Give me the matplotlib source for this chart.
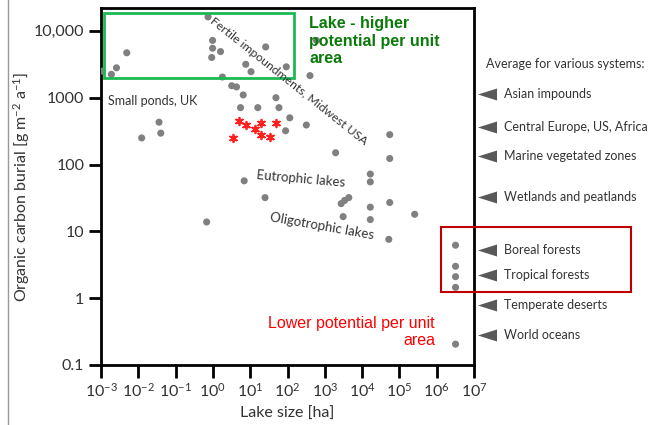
import matplotlib
matplotlib.use("Agg")
import matplotlib.pyplot as plt
import matplotlib.patches as mpatches
import matplotlib.transforms as mtransforms
from matplotlib.ticker import FixedLocator, FixedFormatter, NullLocator

plt.rcParams["font.family"] = ["Lato", "DejaVu Sans"]
plt.rcParams["mathtext.fontset"] = "custom"
plt.rcParams["mathtext.rm"] = "Lato"
plt.rcParams["mathtext.it"] = "Lato"
plt.rcParams["mathtext.bf"] = "Lato:bold"

# ── Datos ─────────────────────────────────────────────────────────────────────
# lagos (tamaño en ha, enterramiento de C en g m-2 a-1)
lake_size = [0.74, 0.0049, 0.0026, 0.0019, 0.0011, 0.98, 0.98, 1.6, 0.93, 26,
             7.6, 10.5, 93, 400, 1.8, 3.2, 4.3, 6.5, 49, 5.5,
             16, 59, 115, 320, 89, 0.036, 0.040, 0.0123, 600, 55000,
             55000, 1950, 16600, 16600, 6.9, 25, 2750, 3400, 4400, 16600,
             55000, 257000, 3100, 16600, 0.68, 52000, 3.2e6, 3.2e6, 3.2e6, 3.2e6,
             3.2e6]
burial = [16200, 4700, 2800, 2240, 2500, 7200, 5500, 4900, 4000, 5750,
          3160, 2450, 2900, 2140, 2040, 1510, 1450, 1100, 1000, 710,
          710, 710, 500, 390, 320, 430, 295, 250, 7200, 280,
          123, 150, 72, 55, 57, 32, 26, 29, 32, 23,
          27, 18, 16.6, 15, 13.8, 7.6, 6.2, 3.0, 2.1, 1.45,
          0.205]

# estanques marcados con asterisco rojo
star_size = [5.0, 7.9, 13.2, 20, 20, 35, 50, 3.4]
star_burial = [443, 395, 337, 413, 281, 262, 413, 251]

# promedios por sistema (flechas a la derecha)
systems = ["Asian impounds", "Central Europe, US, Africa", "Marine vegetated zones",
           "Wetlands and peatlands", "Boreal forests", "Tropical forests",
           "Temperate deserts", "World oceans"]
system_burial = [1135, 361, 132, 32.5, 5.2, 2.2, 0.79, 0.28]

y_ticks = [0.1, 1, 10, 100, 1000, 10000]
y_ticklabels = ["0.1", "1", "10", "100", "1000", "10,000"]
x_ticks = [10.0 ** e for e in range(-3, 8)]

W, H = 652, 425


def fx(px):
    return px / W


def fy(py):
    return 1 - py / H


fig = plt.figure(figsize=(W / 100, H / 100), dpi=100)
ax = fig.add_axes([fx(101), fy(365), (474 - 101) / W, (365 - 8) / H])

ax.scatter(lake_size, burial, s=26, color="#808080", edgecolors="none", zorder=3)
ax.scatter(star_size, star_burial, s=30, marker=(6, 2, 0), color="#ff2020",
           linewidths=1.3, zorder=3)

ax.set_xscale("log")
ax.set_yscale("log")
ax.set_xlim(1e-3, 1e7)
ax.set_ylim(0.1, 22000)

ax.xaxis.set_major_locator(FixedLocator(x_ticks))
ax.xaxis.set_minor_locator(NullLocator())
ax.yaxis.set_major_locator(FixedLocator(y_ticks))
ax.yaxis.set_major_formatter(FixedFormatter(y_ticklabels))
ax.yaxis.set_minor_locator(NullLocator())
ax.tick_params(axis="both", direction="out", length=9, width=2, colors="black",
               labelcolor="#333333", labelsize=11.5, pad=3)
for sp in ax.spines.values():
    sp.set_linewidth(2)
    sp.set_color("black")

ax.set_xlabel("Lake size [ha]", fontsize=11.5, color="#333333", labelpad=5)
ax.set_ylabel("Organic carbon burial [g m$^{-2}$ a$^{-1}$]", fontsize=11.5,
              color="#333333", labelpad=1)

# flechas de promedios por sistema
trans = mtransforms.blended_transform_factory(ax.transAxes, ax.transData)
tri = [(-1, 0), (1, 0.63), (1, -0.63)]
ax.plot([1.036] * len(system_burial), system_burial, linestyle="none",
        marker=tri, markersize=13.7, color="#595959", markeredgewidth=0,
        transform=trans, clip_on=False)
for name, val in zip(systems, system_burial):
    ax.text(1.0804, val, name, transform=trans, ha="left", va="center",
            fontsize=9, color="#333333", clip_on=False)

fig.text(fx(486), fy(64), "Average for various systems:", ha="left", va="center",
         fontsize=9, color="#333333")

# etiquetas de grupos
fig.text(fx(108), fy(101), "Small ponds, UK", ha="left", va="center",
         fontsize=9, color="#333333")
fig.text(fx(289), fy(81), "Fertile impoundments, Midwest USA", ha="center",
         va="center", rotation=-38.5, rotation_mode="anchor", fontsize=8.8,
         color="#333333")
fig.text(fx(301), fy(179), "Eutrophic lakes", ha="center", va="center",
         rotation=-5, rotation_mode="anchor", fontsize=9.5, color="#333333")
fig.text(fx(322), fy(226), "Oligotrophic lakes", ha="center", va="center",
         rotation=-10, rotation_mode="anchor", fontsize=9.5, color="#333333")

# recuadros y notas
fig.add_artist(mpatches.Rectangle((fx(104), fy(78)), (294 - 104) / W, (78 - 13) / H,
                                  transform=fig.transFigure, fill=False,
                                  edgecolor="#1db954", linewidth=2))
fig.add_artist(mpatches.Rectangle((fx(441), fy(292)), (631 - 441) / W, (292 - 227) / H,
                                  transform=fig.transFigure, fill=False,
                                  edgecolor="#c00000", linewidth=1.5))
fig.text(fx(309), fy(16), "Lake - higher\npotential per unit\narea", ha="left",
         va="top", fontsize=11.5, fontweight="bold", color="#0a7a0a",
         family="Liberation Sans", linespacing=1.22)
fig.text(fx(435), fy(316), "Lower potential per unit\narea", ha="right",
         va="top", fontsize=11.5, color="#ff0000", family="Liberation Sans",
         multialignment="right", linespacing=1.2)

# línea gris del borde de la diapositiva
fig.add_artist(plt.Line2D([fx(8), fx(8)], [0, 1], transform=fig.transFigure,
                          color="#999999", linewidth=1))

fig.savefig("out.png", dpi=100)
